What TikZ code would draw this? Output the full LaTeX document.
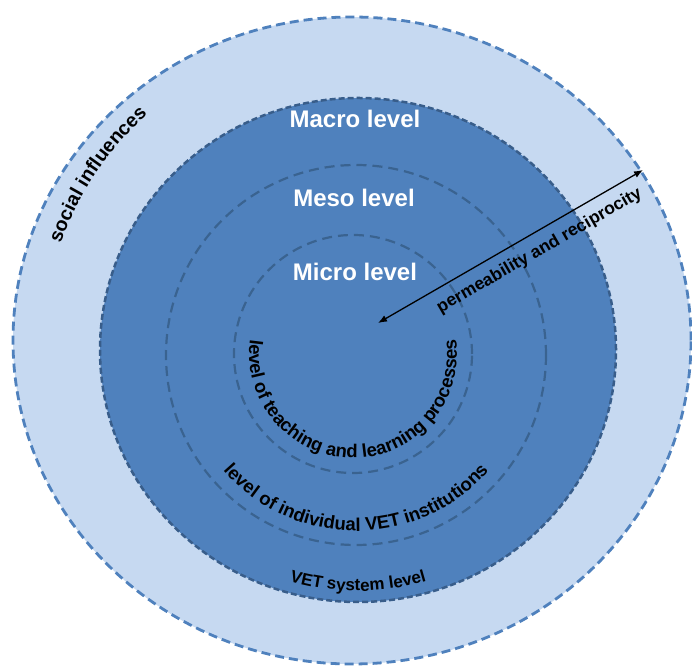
\documentclass[tikz,border=0pt]{standalone}
\usepackage{fontspec}
\setmainfont{Liberation Sans}
\usetikzlibrary{decorations.text,arrows.meta,calc}
\definecolor{ringlight}{HTML}{C6D9F1}
\definecolor{ringedge}{HTML}{4F81BD}
\definecolor{corefill}{HTML}{4F81BD}
\definecolor{coreedge}{HTML}{385D8A}
\definecolor{innerdash}{HTML}{3A6390}
\newcommand{\curvedfont}{\bfseries\fontsize{18.5pt}{20pt}\selectfont}
\newcommand{\outerfont}{\bfseries\fontsize{19.5pt}{21pt}\selectfont}
\newcommand{\systemfont}{\bfseries\fontsize{17pt}{19pt}\selectfont}
\begin{document}
\begin{tikzpicture}[x=1pt,y=1pt,
  levellabel/.style={text=white,font=\bfseries\fontsize{24pt}{26pt}\selectfont,inner sep=0pt},
  ringline/.style={draw=ringedge,line width=2.8pt,dash pattern=on 9pt off 5pt},
  coreline/.style={draw=coreedge,line width=2.5pt,dash pattern=on 6pt off 3pt},
  innerline/.style={draw=innerdash,line width=2.2pt,dash pattern=on 10pt off 6pt},
  twoway/.style={{Latex[length=9pt,width=7pt]}-{Latex[length=9pt,width=7pt]},line width=1.3pt,black},
  arclabel/.style={decorate,decoration={text along path,text align=center,text={#1}}}]
\fill[white] (0,0) rectangle (692,668);
\useasboundingbox (0,0) rectangle (692,668);

% centres of the rings
\coordinate (ringc) at (352,327.5);
\coordinate (corec) at (358,318);
\coordinate (mesoc) at (356,313);
\coordinate (microc) at (353,314);

% social influences ring
\path[fill=ringlight,ringline] (ringc) ellipse [x radius=339pt, y radius=323.5pt];
% macro level disc
\path[fill=corefill,coreline] (corec) ellipse [x radius=258pt, y radius=252pt];
% meso and micro boundaries
\path[innerline] (mesoc) circle [radius=190pt];
\path[innerline] (microc) circle [radius=119pt];

% level titles
\node[levellabel] (macro) at (355,549) {Macro level};
\node[levellabel] (meso) at (354,470) {Meso level};
\node[levellabel] (micro) at (355,396) {Micro level};

% curved labels
\path[arclabel={|\outerfont|social influences}]
  ($(corec)+(168:316pt)$) arc[start angle=168, end angle=124, radius=316pt];
\path[arclabel={|\curvedfont|level of teaching and learning processes}]
  ($(microc)+(165:104pt)$) arc[start angle=165, end angle=375, radius=104pt];
\path[arclabel={|\curvedfont|level of individual VET institutions}]
  ($(mesoc)+(195:176pt)$) arc[start angle=195, end angle=345, radius=176pt];
\path[arclabel={|\systemfont|VET system level}]
  ($(corec)+(235:241pt)$) arc[start angle=235, end angle=305, radius=241pt];

% permeability arrow
\coordinate (arrowin) at (378,345);
\coordinate (arrowout) at (643,498);
\draw[twoway] (arrowin) -- (arrowout);
\node[rotate=30,font=\bfseries\fontsize{17.5pt}{19pt}\selectfont,inner sep=0pt] (perm) at (539.5,417) {permeability and reciprocity};
\end{tikzpicture}
\end{document}
